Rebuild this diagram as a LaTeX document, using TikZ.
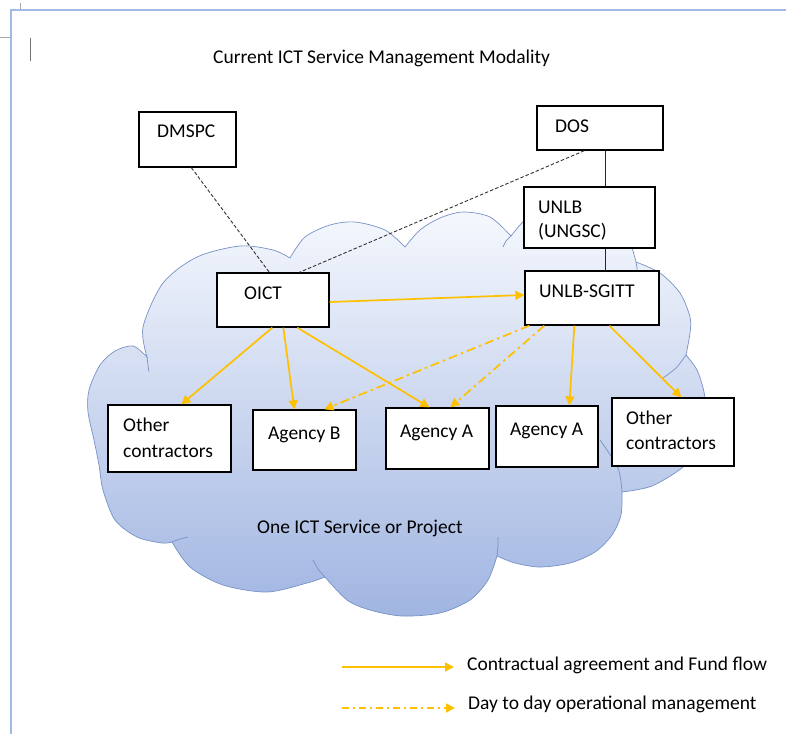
\documentclass[tikz,border=0pt]{standalone}
\usepackage{fontspec}
\setmainfont{Carlito}
\usetikzlibrary{arrows.meta}
\definecolor{arrowc}{RGB}{255,192,0}
\definecolor{cloudline}{RGB}{120,145,198}
\definecolor{cloudtop}{RGB}{248,250,254}
\definecolor{cloudbot}{RGB}{160,181,225}
\definecolor{pageblue}{RGB}{160,186,232}
\tikzset{
  box/.style={draw=black, line width=1.3pt, fill=white, inner sep=0pt},
  lbl/.style={anchor=base west, inner sep=0pt, font=\fontsize{19.5}{24}\selectfont},
  conn/.style={draw=black!85, line width=0.9pt},
  dashconn/.style={draw=black!80, line width=0.9pt, dash pattern=on 3.5pt off 2pt},
  flow/.style={draw=arrowc, line width=1.7pt, -{Triangle[length=9pt,width=9pt]}},
  opflow/.style={draw=arrowc, line width=1.7pt, dash pattern=on 9pt off 4pt on 2.5pt off 4pt, -{Triangle[length=9pt,width=9pt]}},
  cloudedge/.style={draw=cloudline, line width=0.7pt}
}
\begin{document}
\begin{tikzpicture}[x=1pt,y=-1pt]
\useasboundingbox (0,0) rectangle (786,734);
\fill[white] (0,0) rectangle (786,734);
% page marks
\draw[pageblue, line width=2pt] (11,734) -- (11,10) -- (786,10);
\draw[black!35, line width=0.8pt] (0,37) -- (10,37);
\draw[black!35, line width=0.8pt] (20,3) -- (20,9);
\draw[black!55, line width=1pt] (30,38) -- (30,61);
% title
\node[lbl] (title) at (213,63) {Current ICT Service Management Modality};
% cloud
\path[shade, top color=cloudtop, bottom color=cloudbot, cloudedge]
  plot[smooth] coordinates {(147,357) (143,327) (163,283) (197,257) (240,246) (273,250) (290,258)}
  -- plot[smooth] coordinates {(290,258) (305,237) (330,225) (355,222) (385,230) (405,247)}
  -- plot[smooth] coordinates {(405,247) (420,230) (440,218) (463,212) (490,217) (511,236)}
  -- plot[smooth] coordinates {(511,236) (525,220) (550,203) (580,198) (608,208) (626,230) (636,262)}
  -- plot[smooth] coordinates {(636,262) (660,273) (680,293) (690,317) (690,333) (686,355)}
  -- plot[smooth] coordinates {(686,355) (697,370) (704,392) (706,415) (700,445) (683,467) (652,486) (622,492)}
  -- plot[smooth] coordinates {(622,492) (621,515) (612,535) (595,552) (570,563) (540,567) (515,563) (497,556)}
  -- plot[smooth] coordinates {(497,556) (488,580) (470,600) (440,613) (402,616) (370,610) (347,600) (325,577)}
  -- plot[smooth] coordinates {(325,577) (307,583) (267,592) (223,585) (190,567) (172,542)}
  -- plot[smooth] coordinates {(172,542) (162,543) (137,537) (115,520) (103,490) (99,465) (94,440) (88,412) (89,390) (100,365) (115,351) (133,346) (147,357)}
  -- cycle;
% inner arcs of the cloud
\draw[cloudedge] plot[smooth] coordinates {(172,542) (180,539) (188,537)};
\draw[cloudedge] plot[smooth] coordinates {(325,577) (318,569) (313,560)};
\draw[cloudedge] plot[smooth] coordinates {(497,556) (498,546) (498,537)};
\draw[cloudedge] plot[smooth] coordinates {(622,492) (618,468) (600,440)};
\draw[cloudedge] plot[smooth] coordinates {(686,355) (676,368) (663,378)};
\draw[cloudedge] plot[smooth] coordinates {(636,262) (637,268) (637,272)};
\draw[cloudedge] plot[smooth] coordinates {(511,236) (506,241) (503,247)};
\draw[cloudedge] plot[smooth] coordinates {(147,357) (148,365) (149,372)};
% boxes
\node[box, minimum width=97pt, minimum height=55pt] (dmspc) at (187.5,139.5) {};
\node[box, minimum width=126pt, minimum height=44pt] (dos) at (600,128) {};
\node[box, minimum width=131pt, minimum height=61pt] (unlb) at (589.5,217.5) {};
\node[box, minimum width=134pt, minimum height=54pt] (sgitt) at (592,298) {};
\node[box, minimum width=112pt, minimum height=54pt] (oict) at (273,300) {};
\node[box, minimum width=123pt, minimum height=67pt] (othl) at (169.5,438.5) {};
\node[box, minimum width=103pt, minimum height=60pt] (agb) at (304.5,440) {};
\node[box, minimum width=103pt, minimum height=61pt] (aga1) at (437.5,438.5) {};
\node[box, minimum width=102pt, minimum height=61pt] (aga2) at (547,436.5) {};
\node[box, minimum width=122pt, minimum height=68pt] (othr) at (673,432) {};
% labels
\node[lbl] (dmspcT) at (157,137) {DMSPC};
\node[lbl] (dosT) at (555,132) {DOS};
\node[lbl] (unlbT1) at (538,213) {UNLB};
\node[lbl] (unlbT2) at (538,237) {(UNGSC)};
\node[lbl] (sgittT) at (539,297) {UNLB-SGITT};
\node[lbl] (oictT) at (244,299) {OICT};
\node[lbl] (othlT1) at (123,431) {Other};
\node[lbl] (othlT2) at (123,457) {contractors};
\node[lbl] (agbT) at (268,439) {Agency B};
\node[lbl] (aga1T) at (400,437) {Agency A};
\node[lbl] (aga2T) at (510,435) {Agency A};
\node[lbl] (othrT1) at (626,424) {Other};
\node[lbl] (othrT2) at (626,449) {contractors};
\node[lbl] (cloudT) at (257,533) {One ICT Service or Project};
% black connectors
\draw[dashconn] ([xshift=53pt]dmspc.south west) -- ([xshift=53pt]oict.north west);
\draw[dashconn] ([xshift=48pt]dos.south west) -- ([xshift=83pt]oict.north west);
\draw[conn] ([xshift=69pt]dos.south west) -- ([xshift=82pt]unlb.north west);
\draw[conn] ([xshift=82pt]unlb.south west) -- ([xshift=81pt]sgitt.north west);
% flows
\draw[flow] ([yshift=-2pt]oict.east) -- ([yshift=3pt]sgitt.west);
\draw[flow] ([xshift=56pt]oict.south west) -- ([xshift=74pt]othl.north west);
\draw[flow] ([xshift=67pt]oict.south west) -- ([xshift=42pt]agb.north west);
\draw[flow] ([xshift=81pt]oict.south west) -- ([xshift=44pt]aga1.north west);
\draw[opflow] ([xshift=5pt]sgitt.south west) -- ([xshift=72pt]agb.north west);
\draw[opflow] ([xshift=20pt]sgitt.south west) -- ([xshift=65pt]aga1.north west);
\draw[flow] ([xshift=50pt]sgitt.south west) -- ([xshift=74pt]aga2.north west);
\draw[flow] ([xshift=85pt]sgitt.south west) -- ([xshift=70pt]othr.north west);
% legend
\coordinate (la1) at (342,667);
\coordinate (lb1) at (454,667);
\coordinate (la2) at (342,708);
\coordinate (lb2) at (455,708);
\draw[flow] (la1) -- (lb1);
\draw[opflow, dash pattern=on 7pt off 4pt on 2pt off 4pt] (la2) -- (lb2);
\node[lbl] (leg1) at (467,670) {Contractual agreement and Fund flow};
\node[lbl] (leg2) at (468,709) {Day to day operational management};
\end{tikzpicture}
\end{document}
